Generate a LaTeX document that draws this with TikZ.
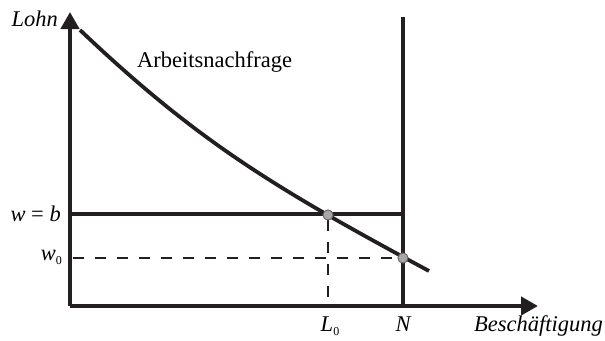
\documentclass[tikz,border=0pt]{standalone}
\usepackage{fontspec}
\setmainfont{Liberation Serif}
\usetikzlibrary{arrows.meta}
\definecolor{ink}{HTML}{231F20}
\definecolor{dotgray}{HTML}{A8A8A8}
\newcommand{\lblfont}{\fontsize{22.5}{26}\selectfont}
\newcommand{\subfont}{\fontsize{12}{14}\selectfont}
\tikzset{
  axis/.style={line width=4.4pt, draw=ink, -{Triangle[length=17pt,width=18pt]}},
  thick line/.style={line width=4.4pt, draw=ink},
  demand/.style={line width=3.8pt, draw=ink},
  guide/.style={line width=2.4pt, draw=ink, dash pattern=on 11pt off 11pt},
  eqdot/.style={circle, fill=dotgray, draw=ink!70, line width=0.8pt, inner sep=0pt, minimum size=10pt},
  lbl/.style={font=\lblfont, inner sep=0pt}
}
\begin{document}
\begin{tikzpicture}[x=1pt,y=-1pt]
\useasboundingbox (0,0) rectangle (605,340);
\coordinate (O) at (70,306);
\coordinate (ytip) at (70,12);
\coordinate (xtip) at (538,306);
\coordinate (Ntop) at (403,17);
\coordinate (Nbot) at (403,306);
\coordinate (wbL) at (70,214);
\coordinate (wbR) at (403,214);
\coordinate (w0L) at (73,258);
\coordinate (L0b) at (328,306);
\coordinate (cstart) at (80,30);
\coordinate (cend) at (429,271);
% axes
\draw[axis] (O) -- (ytip);
\draw[axis] (O) -- (xtip);
% N line
\draw[thick line] (Nbot) -- (Ntop);
% w=b line
\draw[thick line] (wbL) -- (wbR);
% demand curve
\draw[demand] (cstart) .. controls (200,144) and (279,190) .. (cend);
\node[eqdot] (E1) at (328,215) {};
\node[eqdot] (E2) at (403,258) {};
% guides
\draw[guide] (w0L) -- (E2);
\draw[guide] (E1) -- (L0b);
\node[eqdot] at (E1) {};
\node[eqdot] at (E2) {};
% labels
\node[lbl, anchor=base east, font=\lblfont\itshape] (lohn) at (58,27) {Lohn};
\node[lbl, anchor=base west] (an) at (137,67) {Arbeitsnachfrage};
\node[lbl, anchor=east] (wb) at (61,214) {\textit{w} = \textit{b}};
\node[lbl, anchor=east] (w0) at (62,257) {\textit{w}\raisebox{-0.4ex}{\subfont 0}};
\node[lbl, anchor=base] (L0) at (330,331) {\textit{L}\raisebox{-0.4ex}{\subfont 0}};
\node[lbl, anchor=base, font=\lblfont\itshape] (N) at (403,331) {N};
\node[lbl, anchor=base east, font=\lblfont\itshape] (besch) at (603,331) {Beschäftigung};
\end{tikzpicture}
\end{document}
